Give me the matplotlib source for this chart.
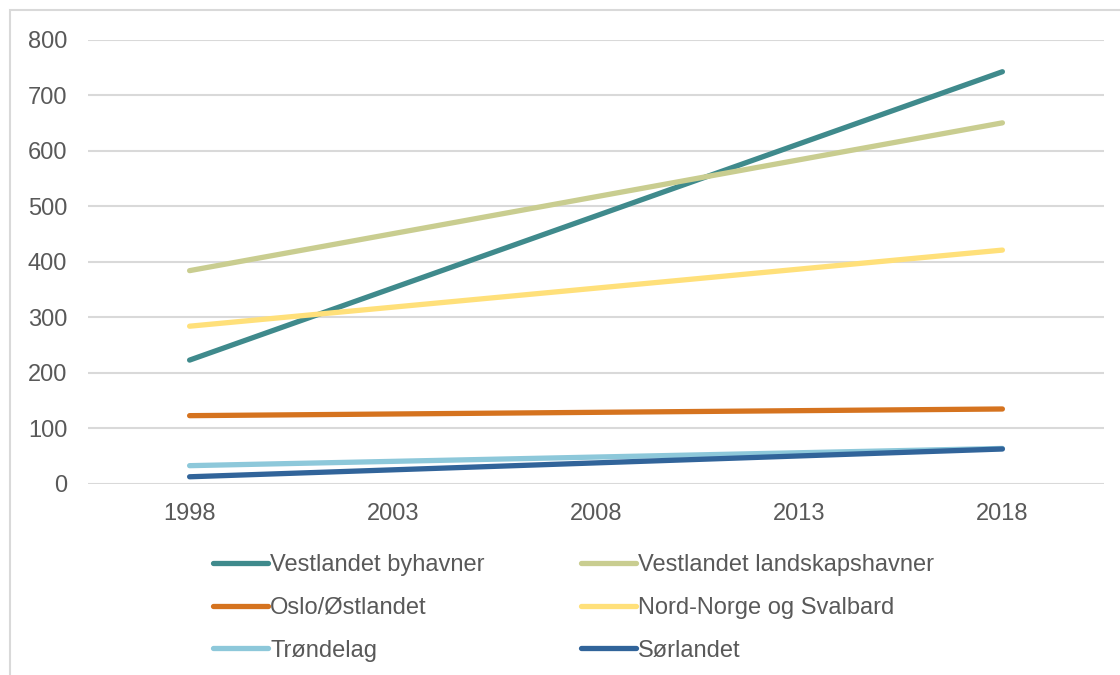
import matplotlib.pyplot as plt
from matplotlib.patches import Rectangle

plt.rcParams['font.family'] = ['Liberation Sans', 'DejaVu Sans']

years = [1998, 2018]
series_names = ['Vestlandet byhavner', 'Vestlandet landskapshavner', 'Oslo/Østlandet',
                'Nord-Norge og Svalbard', 'Trøndelag', 'Sørlandet']
vest_by = [223, 742]
vest_land = [384, 650]
oslo = [123, 135]
nord = [284, 421]
trondelag = [33, 64]
sorlandet = [13, 63]
xticks = [1998, 2003, 2008, 2013, 2018]
yticks = [0, 100, 200, 300, 400, 500, 600, 700, 800]

colors = ['#3f8a8c', '#c9cd90', '#d5731f', '#ffe07a', '#8dc8da', '#31649a']
values = [vest_by, vest_land, oslo, nord, trondelag, sorlandet]

fig = plt.figure(figsize=(11.2, 6.75), dpi=100)
ax = fig.add_axes([88 / 1120, 1 - 484 / 675, (1104 - 88) / 1120, (484 - 39.5) / 675])

lines = []
for name, vals, c in zip(series_names, values, colors):
    ln, = ax.plot(years, vals, color=c, lw=3.8, solid_capstyle='round', label=name)
    lines.append(ln)

ax.set_xlim(1995.5, 2020.5)
ax.set_ylim(0, 800)
ax.set_xticks(xticks)
ax.set_yticks(yticks)
ax.grid(axis='y', color='#d9d9d9', lw=1.5)
ax.set_axisbelow(True)
for s in ax.spines.values():
    s.set_visible(False)
ax.tick_params(length=0, labelsize=17, labelcolor='#595959')
ax.tick_params(axis='y', pad=15)
ax.tick_params(axis='x', pad=14)

# legend fills column-first, so reorder to get the row layout
order = [0, 2, 4, 1, 3, 5]
leg = fig.legend([lines[i] for i in order], [series_names[i] for i in order],
                 ncol=2, loc='upper left', bbox_to_anchor=(204 / 1120, 1 - 545 / 675),
                 frameon=False, fontsize=17, handlelength=2.3, handletextpad=0.1,
                 columnspacing=4.1, labelspacing=0.87, borderaxespad=0)
for t in leg.get_texts():
    t.set_color('#595959')

fig.add_artist(Rectangle((10 / 1120, -0.1), 1.1, 1.1 - 10 / 675, transform=fig.transFigure,
                         fill=False, edgecolor='#d9d9d9', lw=1.5))

fig.savefig('out.png', dpi=100)
